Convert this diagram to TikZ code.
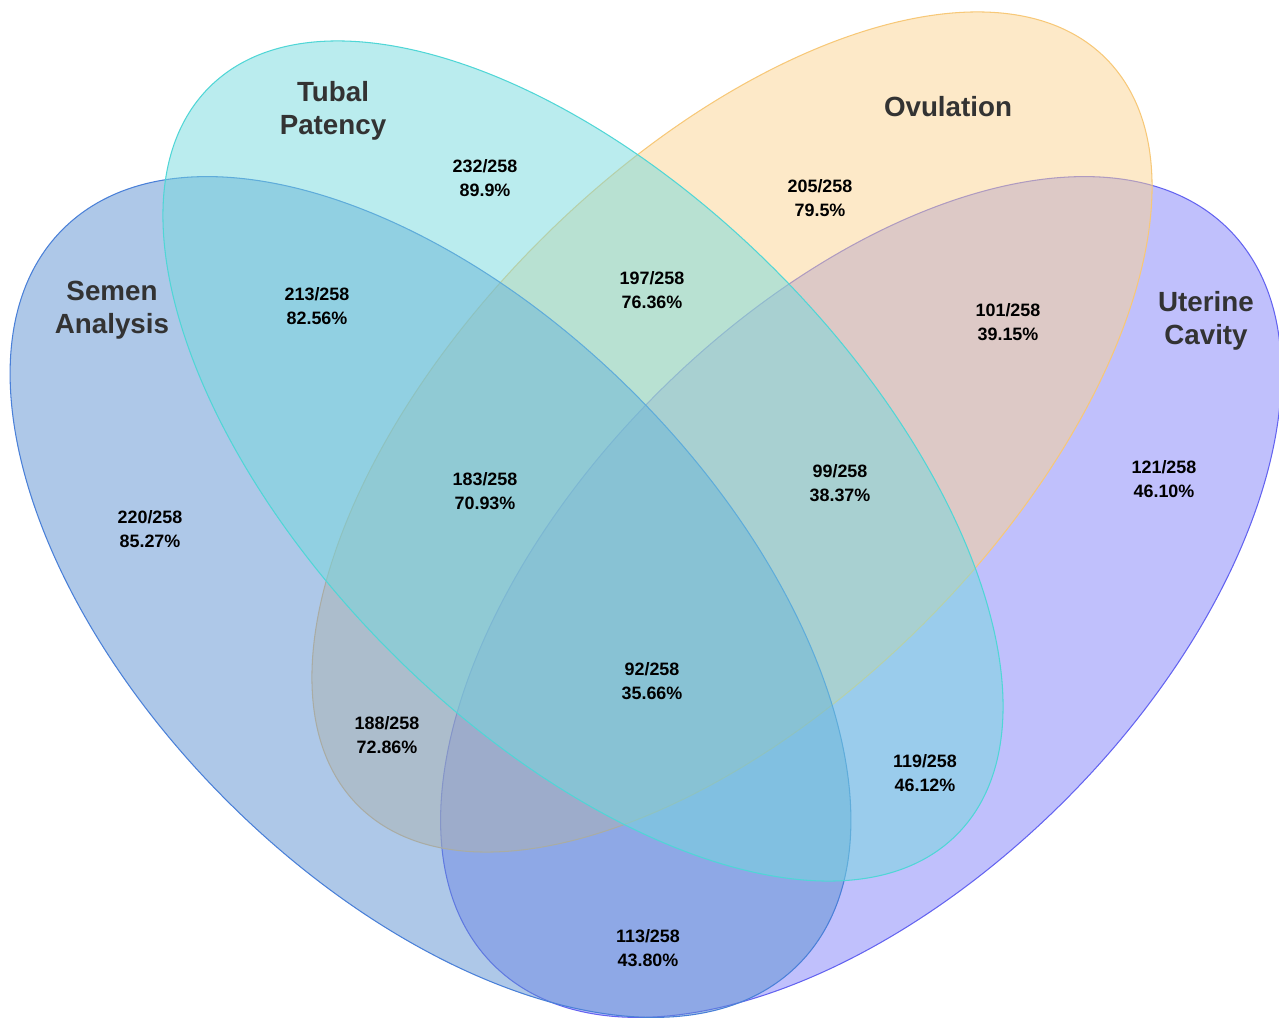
\documentclass[tikz,border=0pt]{standalone}
\usepackage{fontspec}
\setmainfont{Liberation Sans}
\definecolor{semen}{RGB}{93,145,209}
\definecolor{semenline}{RGB}{74,128,216}
\definecolor{tubal}{RGB}{117,217,221}
\definecolor{tuballine}{RGB}{80,214,214}
\definecolor{ovul}{RGB}{251,211,145}
\definecolor{ovulline}{RGB}{247,200,120}
\definecolor{uter}{RGB}{129,129,249}
\definecolor{uterline}{RGB}{100,100,240}
\begin{document}
\begin{tikzpicture}[x=0.02cm,y=0.02cm,
	setname/.style={font=\bfseries\fontsize{15.8}{18.8}\selectfont, text=black!80, align=center},
	num/.style={font=\bfseries\fontsize{10.2}{13.4}\selectfont, align=center},
	venn/.style={fill opacity=0.5, line width=0.6pt}]
	\useasboundingbox (0,0) rectangle (1279,1019);
	
	\coordinate (cs) at (430.5,422);
	\coordinate (ct) at (583,558);
	\coordinate (co) at (732,587);
	\coordinate (cu) at (861,422);
	
	% sets, back to front
	\filldraw[venn, fill=uter, draw=uterline, rotate around={45:(cu)}] (cu) ellipse [x radius=520, y radius=288];
	\filldraw[venn, fill=ovul, draw=ovulline, rotate around={45:(co)}] (co) ellipse [x radius=528.5, y radius=271];
	\filldraw[venn, fill=semen, draw=semenline, rotate around={-45:(cs)}] (cs) ellipse [x radius=520, y radius=288];
	\filldraw[venn, fill=tubal, draw=tuballine, rotate around={-45:(ct)}] (ct) ellipse [x radius=528.5, y radius=271];
	
	\node[setname] (tubname) at (333,908) {Tubal\\Patency};
	\node[setname] (ovuname) at (948,912) {Ovulation};
	\node[setname] (semname) at (112,709) {Semen\\Analysis};
	\node[setname] (utename) at (1206,698) {Uterine\\Cavity};
	
	\node[num] (t) at (485,841) {232/258\\89.9\%};
	\node[num] (o) at (820,821) {205/258\\79.5\%};
	\node[num] (st) at (317,713) {213/258\\82.56\%};
	\node[num] (to) at (652,729) {197/258\\76.36\%};
	\node[num] (ou) at (1008,697) {101/258\\39.15\%};
	\node[num] (s) at (150,490) {220/258\\85.27\%};
	\node[num] (sto) at (485,528) {183/258\\70.93\%};
	\node[num] (tou) at (840,536) {99/258\\38.37\%};
	\node[num] (u) at (1164,540) {121/258\\46.10\%};
	\node[num] (stou) at (652,338) {92/258\\35.66\%};
	\node[num] (so) at (387,284) {188/258\\72.86\%};
	\node[num] (tu) at (925,246) {119/258\\46.12\%};
	\node[num] (su) at (648,71) {113/258\\43.80\%};
\end{tikzpicture}
\end{document}
